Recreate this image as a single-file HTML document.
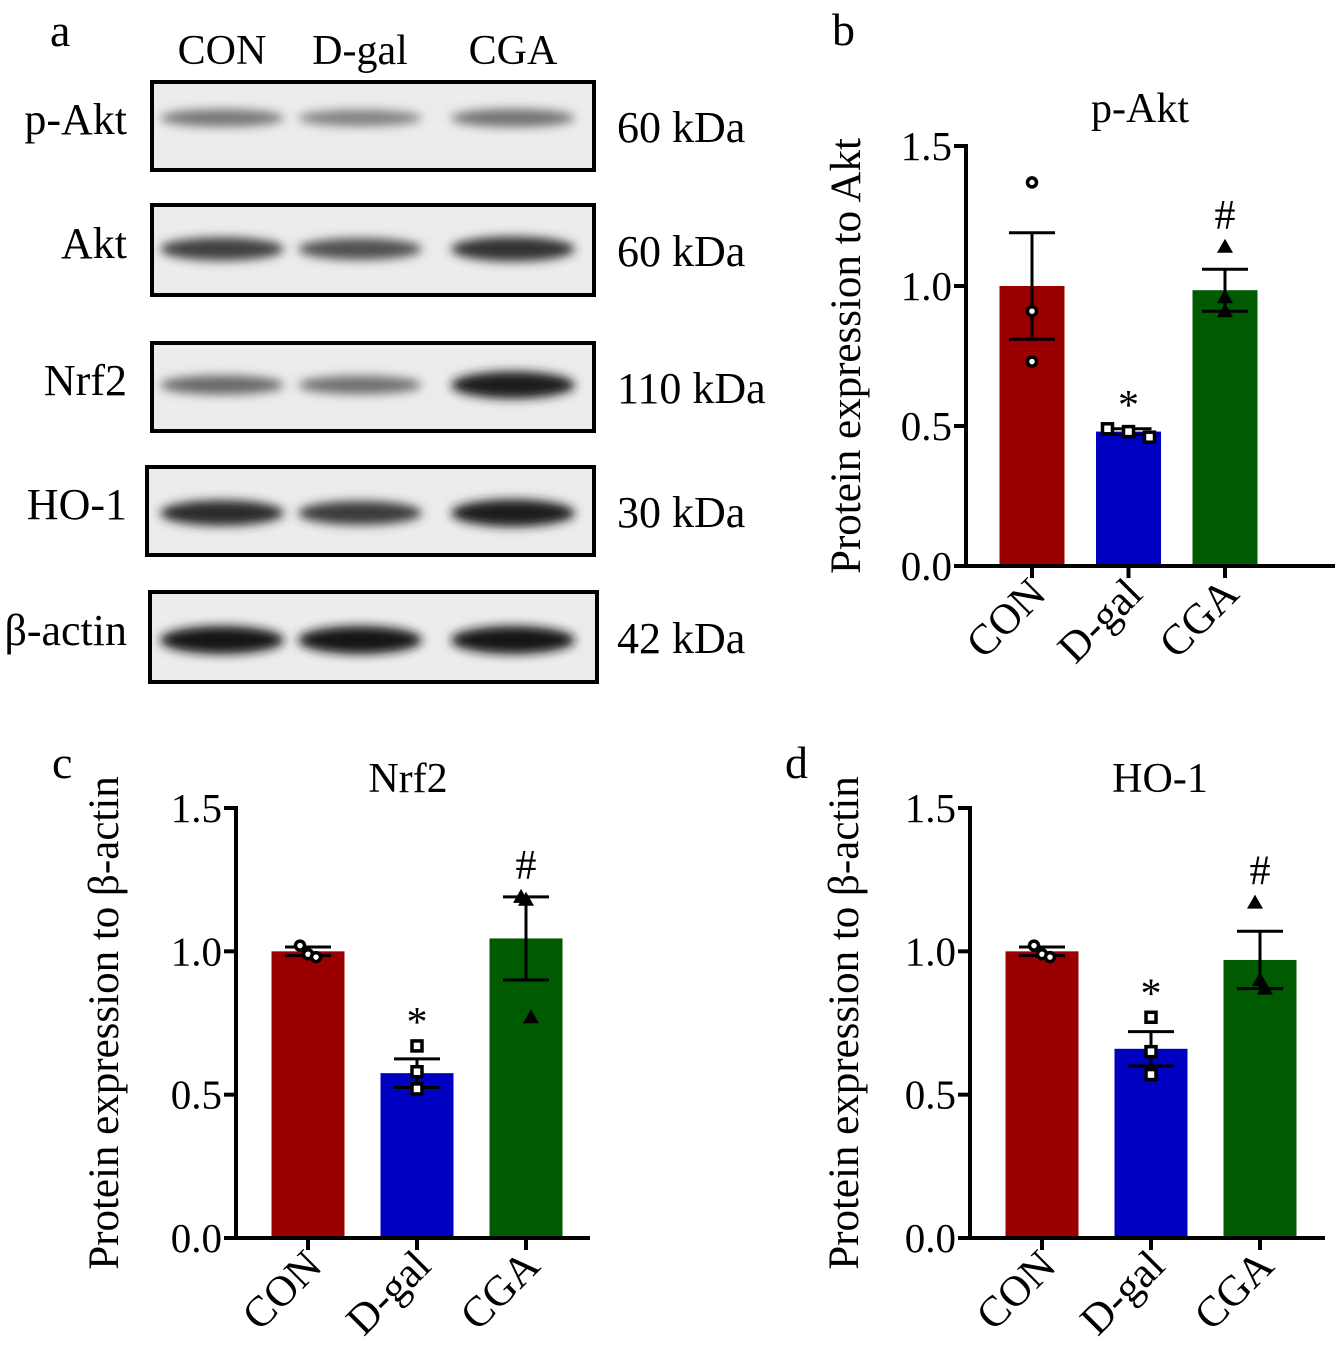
<!DOCTYPE html>
<html><head><meta charset="utf-8"><style>
html,body{margin:0;padding:0;background:#fff;}
svg{display:block;font-family:"Liberation Serif",serif;}
</style></head><body>
<svg id="fig" width="1338" height="1366" viewBox="0 0 1338 1366" xmlns="http://www.w3.org/2000/svg">
<defs>
<filter id="blur" x="-20%" y="-100%" width="140%" height="300%"><feGaussianBlur stdDeviation="5"/></filter>
</defs>
<g id="blots">
<text x="50" y="46" font-size="46">a</text>
<text x="222" y="64" font-size="42" text-anchor="middle">CON</text>
<text x="360" y="64" font-size="42" text-anchor="middle">D-gal</text>
<text x="513" y="64" font-size="42" text-anchor="middle">CGA</text>
</g>
<g id="chartB"></g><g id="chartC"></g><g id="chartD"></g>
</svg>
<script>
const NS="http://www.w3.org/2000/svg";
function mk(tag,attrs,parent,txt){const e=document.createElementNS(NS,tag);for(const k in attrs)e.setAttribute(k,attrs[k]);if(txt!==undefined)e.textContent=txt;parent.appendChild(e);return e;}

// ---- blots ----
const blotNames=["p-Akt","Akt","Nrf2","HO-1","β-actin"];
const blotKda=["60 kDa","60 kDa","110 kDa","30 kDa","42 kDa"];
const blotIntensity=[[0.35,0.28,0.38],[0.7,0.6,0.8],[0.45,0.4,0.95],[0.85,0.75,0.95],[1,1,1]];
const blotBoxes=[[152,82,442,88],[152,205,442,90],[152,343,442,88],[147,467,447,88],[150,592,447,90]];
const blots=document.getElementById('blots');
blotNames.forEach((n,i)=>{
  const [x,y,w,h]=blotBoxes[i];
  const g=mk('g',{},blots);
  
  
  mk('rect',{x:x,y:y,width:w,height:h,fill:'#ececec'},g);
  const laneC=[222,360,513];
  const bandY=[y+36,y+44,y+42,y+46,y+48];
  laneC.forEach((cx,j)=>{
    const v=blotIntensity[i][j];
    const c=Math.round(20+(1-v)*150);
    const e=mk('ellipse',{cx:cx,cy:bandY[i],rx:62,ry:6+v*8,fill:`rgb(${c},${c},${c})`,filter:'url(#blur)'},g);
    
    
  });
  mk('rect',{x:x,y:y,width:w,height:h,fill:'none',stroke:'#000','stroke-width':4},g);
  const t1=mk('text',{x:127,y:y+h/2+8,'font-size':44,'text-anchor':'end'},g,n);
  
  
  const t2=mk('text',{x:617,y:y+h/2+16,'font-size':44},g,blotKda[i]);
  
  
});

// ---- chart data ----
const categories=["CON","D-gal","CGA"];
const colors=["#9b0000","#0000c0","#005a00"];
const yTicks=[0,0.5,1.0,1.5];
const yTickLabels=["0.0","0.5","1.0","1.5"];
const bMeans=[1.0,0.48,0.985];
const bSem=[0.19,0.01,0.075];
const bPoints=[[1.37,0.91,0.73],[0.49,0.48,0.46],[1.14,0.96,0.91]];
const cMeans=[1.0,0.575,1.045];
const cSem=[0.015,0.05,0.145];
const cPoints=[[1.02,0.99,0.98],[0.67,0.58,0.52],[1.19,1.18,0.77]];
const dMeans=[1.0,0.66,0.97];
const dSem=[0.015,0.06,0.10];
const dPoints=[[1.02,0.99,0.98],[0.77,0.65,0.57],[1.17,0.90,0.87]];
const sigMarks=["","*","#"];

function drawChart(id,cfg){
  const g=document.getElementById(id);
  
  
  const Y=v=>cfg.y0-(cfg.y0-cfg.y15)*v/1.5;
  const X=i=>cfg.c0+i*cfg.step;
  const lb=mk('text',{x:cfg.lx,y:cfg.ly,'font-size':46},g,cfg.letter);
  
  
  const tt=mk('text',{x:cfg.tx,y:cfg.ty,'font-size':42,'text-anchor':'middle'},g,cfg.title);
  
  
  cfg.means.forEach((m,i)=>{
    const r=mk('rect',{x:X(i)-cfg.bw/2,y:Y(m),width:cfg.bw,height:cfg.y0-Y(m),fill:colors[i]},g);
    
    
  });
  const ax=mk('path',{d:`M${cfg.ax-12},${Y(1.5)}H${cfg.ax}V${cfg.y0}H${cfg.axEnd}`,fill:'none',stroke:'#000','stroke-width':4},g);
  
  
  yTicks.forEach((t,k)=>{
    const l=mk('line',{x1:cfg.ax-12,x2:cfg.ax,y1:Y(t),y2:Y(t),stroke:'#000','stroke-width':4},g);
    
    
    const tx=mk('text',{x:cfg.ax-14,y:Y(t)+14,'font-size':41,'text-anchor':'end'},g,yTickLabels[k]);
    
    
  });
  categories.forEach((c,i)=>{
    const l=mk('line',{x1:X(i),x2:X(i),y1:cfg.y0,y2:cfg.y0+12,stroke:'#000','stroke-width':4},g);
    
    
    const t=mk('text',{x:X(i)+16,y:cfg.y0+30,'font-size':43,'text-anchor':'end',transform:`rotate(-45 ${X(i)+16} ${cfg.y0+30})`},g,c);
    
    
  });
  const yl=mk('text',{x:0,y:0,'font-size':43,'text-anchor':'middle',transform:`translate(${cfg.ylx},${(cfg.y0+Y(1.5))/2}) rotate(-90)`},g,cfg.ylabel);
  
  
  cfg.means.forEach((m,i)=>{
    const s=cfg.sem[i],x=X(i);
    const e=mk('path',{d:`M${x},${Y(m+s)}V${Y(m-s)}M${x-23},${Y(m+s)}H${x+23}M${x-23},${Y(m-s)}H${x+23}`,stroke:'#000','stroke-width':3,fill:'none'},g);
    
    
    const top=Math.max(m+s,...cfg.points[i]);
    cfg.points[i].forEach((p,k)=>{
      const px=x+(k-1)*cfg.jit[i], py=Y(p);
      let el;
      if(i===0) el=mk('circle',{cx:px,cy:py,r:4.5,fill:'#fff',stroke:'#000','stroke-width':3.5},g);
      else if(i===1) el=mk('rect',{x:px-5,y:py-5,width:10,height:10,fill:'#fff',stroke:'#000','stroke-width':3.5},g);
      else el=mk('path',{d:`M${px},${py-8}L${px+8},${py+6}L${px-8},${py+6}Z`,fill:'#000'},g);
      
      
    });
    if(sigMarks[i]){
      const st=mk('text',{x:x,y:Y(top)-(i===1?10:18),'font-size':42,'text-anchor':'middle'},g,sigMarks[i]);
      
      
    }
  });
}
drawChart('chartB',{name:'chart-p-akt',letter:'b',lx:832,ly:45,title:'p-Akt',tx:1140,ty:122,y0:566,y15:146,ax:966,axEnd:1335,c0:1032,step:96.5,bw:65,means:bMeans,sem:bSem,points:bPoints,ylabel:'Protein expression to Akt',ylx:860,jit:[0,21,0]});
drawChart('chartC',{name:'chart-nrf2',letter:'c',lx:52,ly:778,title:'Nrf2',tx:408,ty:792,y0:1238,y15:808,ax:236,axEnd:590,c0:308,step:109,bw:73,means:cMeans,sem:cSem,points:cPoints,ylabel:'Protein expression to β-actin',ylx:118,jit:[8,0,5]});
drawChart('chartD',{name:'chart-ho-1',letter:'d',lx:785,ly:778,title:'HO-1',tx:1160,ty:792,y0:1238,y15:808,ax:970,axEnd:1325,c0:1042,step:109,bw:73,means:dMeans,sem:dSem,points:dPoints,ylabel:'Protein expression to β-actin',ylx:858,jit:[8,0,5]});
</script>
</body></html>
